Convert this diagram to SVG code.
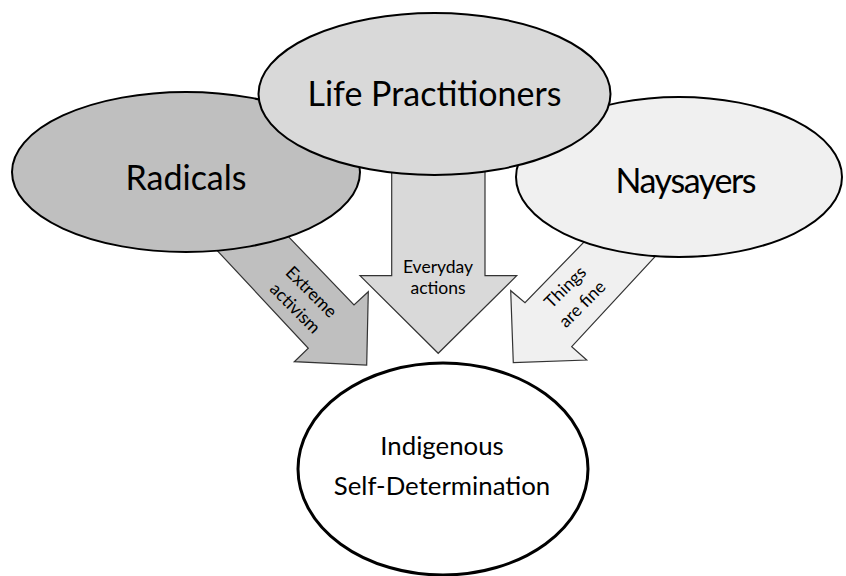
<svg xmlns="http://www.w3.org/2000/svg" width="846" height="576" viewBox="0 0 846 576">
<style>
  .node { stroke: #000; stroke-width: 2; }
  .arrow { stroke: #333; stroke-width: 1.2; stroke-linejoin: miter; }
  .big { font-family: Lato, "Open Sans", sans-serif; font-size: 34px; fill: #000; text-anchor: middle; }
  .small { font-family: Lato, "Open Sans", sans-serif; font-size: 17.5px; fill: #000; text-anchor: middle; }
  .mid { font-family: Lato, "Open Sans", sans-serif; font-size: 25.8px; fill: #000; text-anchor: middle; }
  .dark { fill: #bfbfbf; }
  .mid-grey { fill: #d9d9d9; }
  .light { fill: #f0f0f0; }
</style>
<rect width="846" height="576" fill="#fff"/>
<g id="connectors">
  <g id="arrow-radicals">
    <polygon class="arrow dark" points="262.3,209.4 354,305 368.3,291.7 366.7,365 294.3,361.7 308.3,348.3 191,222.5"/>
    <g transform="translate(303.3,300) rotate(45)">
      <text class="small" x="0" y="-5.5">Extreme</text>
      <text class="small" x="0" y="17.5">activism</text>
    </g>
  </g>
  <g id="arrow-life">
    <polygon class="arrow mid-grey" points="391.7,150 485,150 485,275.7 516.7,275.7 438.2,353.3 360,275.7 391.7,275.7"/>
    <text class="small" x="438" y="272.5">Everyday</text>
    <text class="small" x="438" y="293.5">actions</text>
  </g>
  <g id="arrow-naysayers">
    <polygon class="arrow light" points="612.2,213 525,302.7 510.7,290.7 513.3,362.7 586.7,360 571.7,346.7 682.2,227.3"/>
    <g transform="translate(573.7,295.5) rotate(-45)">
      <text class="small" x="0" y="-6">Things</text>
      <text class="small" x="0" y="18">are fine</text>
    </g>
  </g>
</g>
<g id="radicals">
  <ellipse class="node dark" cx="186" cy="172" rx="174" ry="80"/>
  <text class="big" x="186" y="190">Radicals</text>
</g>
<g id="naysayers">
  <ellipse class="node light" cx="679" cy="177" rx="163" ry="80"/>
  <text class="big" x="686" y="193" textLength="141">Naysayers</text>
</g>
<g id="life-practitioners">
  <ellipse class="node mid-grey" cx="434.5" cy="94" rx="176" ry="81"/>
  <text class="big" x="434.5" y="106">Life Practitioners</text>
</g>
<g id="indigenous">
  <ellipse cx="443" cy="469" rx="145" ry="106" fill="#fff" stroke="#000" stroke-width="3"/>
  <text class="mid" x="442" y="455">Indigenous</text>
  <text class="mid" x="442" y="495">Self-Determination</text>
</g>
</svg>
